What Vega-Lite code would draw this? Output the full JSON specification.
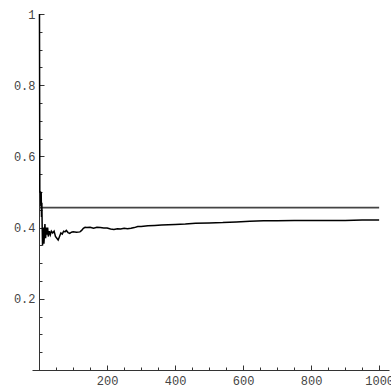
{
  "$schema": "https://vega.github.io/schema/vega-lite/v6.json",
  "width": 357,
  "height": 356,
  "autosize": {"type": "none"},
  "padding": {"left": 32, "top": 14, "right": 2, "bottom": 18},
  "background": "white",
  "config": {
    "view": {"stroke": null},
    "axis": {
      "grid": false,
      "domainColor": "#333333",
      "domainWidth": 1,
      "tickColor": "#333333",
      "tickWidth": 1,
      "labelFont": "Liberation Mono",
      "labelFontSize": 12,
      "labelColor": "#444444",
      "title": null
    }
  },
  "datasets": {
    "series": [
      {"n": 1, "v": 1.0}, {"n": 2, "v": 0.5}, {"n": 3, "v": 0.5}, {"n": 4, "v": 0.5},
      {"n": 5, "v": 0.46}, {"n": 6, "v": 0.5}, {"n": 7, "v": 0.43}, {"n": 8, "v": 0.47},
      {"n": 9, "v": 0.4}, {"n": 10, "v": 0.35}, {"n": 11, "v": 0.38}, {"n": 12, "v": 0.36},
      {"n": 13, "v": 0.4}, {"n": 14, "v": 0.355}, {"n": 15, "v": 0.37}, {"n": 17, "v": 0.41},
      {"n": 19, "v": 0.37}, {"n": 21, "v": 0.4}, {"n": 23, "v": 0.38}, {"n": 25, "v": 0.4},
      {"n": 27, "v": 0.375}, {"n": 30, "v": 0.39}, {"n": 33, "v": 0.38}, {"n": 36, "v": 0.39},
      {"n": 40, "v": 0.385}, {"n": 44, "v": 0.39}, {"n": 48, "v": 0.375}, {"n": 52, "v": 0.37},
      {"n": 56, "v": 0.365}, {"n": 60, "v": 0.375}, {"n": 64, "v": 0.385}, {"n": 68, "v": 0.382},
      {"n": 72, "v": 0.39}, {"n": 76, "v": 0.388}, {"n": 80, "v": 0.392}, {"n": 85, "v": 0.386},
      {"n": 90, "v": 0.384}, {"n": 95, "v": 0.387}, {"n": 100, "v": 0.388}, {"n": 110, "v": 0.387},
      {"n": 120, "v": 0.388}, {"n": 125, "v": 0.392}, {"n": 130, "v": 0.398}, {"n": 135, "v": 0.401},
      {"n": 140, "v": 0.4}, {"n": 150, "v": 0.401}, {"n": 160, "v": 0.398}, {"n": 170, "v": 0.401},
      {"n": 180, "v": 0.4}, {"n": 190, "v": 0.399}, {"n": 200, "v": 0.399}, {"n": 210, "v": 0.396},
      {"n": 220, "v": 0.395}, {"n": 230, "v": 0.397}, {"n": 240, "v": 0.396}, {"n": 250, "v": 0.398},
      {"n": 260, "v": 0.397}, {"n": 270, "v": 0.398}, {"n": 280, "v": 0.4}, {"n": 290, "v": 0.403},
      {"n": 300, "v": 0.403}, {"n": 320, "v": 0.405}, {"n": 340, "v": 0.406}, {"n": 360, "v": 0.407},
      {"n": 380, "v": 0.408}, {"n": 400, "v": 0.409}, {"n": 430, "v": 0.41}, {"n": 460, "v": 0.412},
      {"n": 500, "v": 0.413}, {"n": 540, "v": 0.414}, {"n": 580, "v": 0.416}, {"n": 620, "v": 0.418},
      {"n": 660, "v": 0.419}, {"n": 700, "v": 0.419}, {"n": 750, "v": 0.42}, {"n": 800, "v": 0.42},
      {"n": 850, "v": 0.42}, {"n": 900, "v": 0.42}, {"n": 950, "v": 0.421}, {"n": 1000, "v": 0.421}
    ],
    "ref": [
      {"n": 1, "v": 0.456}, {"n": 1000, "v": 0.456}
    ]
  },
  "resolve": {"axis": {"x": "independent", "y": "independent"}},
  "layer": [
    {
      "data": {"name": "ref"},
      "mark": {"type": "line", "color": "#444444", "strokeWidth": 1.6},
      "encoding": {
        "x": {
          "field": "n", "type": "quantitative",
          "scale": {"domain": [-21, 1029], "nice": false, "zero": false},
          "axis": {
            "orient": "bottom",
            "values": [200, 400, 600, 800, 1000],
            "format": "d",
            "tickSize": -5,
            "labelPadding": 10,
            "labelFlush": false,
            "labelOverlap": false
          }
        },
        "y": {
          "field": "v", "type": "quantitative",
          "scale": {"domain": [0, 1], "nice": false, "zero": false},
          "axis": {
            "orient": "left",
            "offset": -7,
            "values": [0.2, 0.4, 0.6, 0.8, 1],
            "format": ".1~f",
            "tickSize": -5,
            "labelPadding": 9,
            "labelFlush": false,
            "labelOverlap": false
          }
        }
      }
    },
    {
      "data": {"name": "series"},
      "mark": {"type": "line", "color": "#000000", "strokeWidth": 1.5},
      "encoding": {
        "x": {
          "field": "n", "type": "quantitative",
          "axis": {
            "orient": "bottom",
            "values": [50, 100, 150, 250, 300, 350, 450, 500, 550, 650, 700, 750, 850, 900, 950],
            "labels": false,
            "domain": false,
            "tickSize": -3
          }
        },
        "y": {
          "field": "v", "type": "quantitative",
          "axis": {
            "orient": "left",
            "offset": -7,
            "values": [0.05, 0.1, 0.15, 0.25, 0.3, 0.35, 0.45, 0.5, 0.55, 0.65, 0.7, 0.75, 0.85, 0.9, 0.95],
            "labels": false,
            "domain": false,
            "tickSize": -3
          }
        }
      }
    }
  ]
}
